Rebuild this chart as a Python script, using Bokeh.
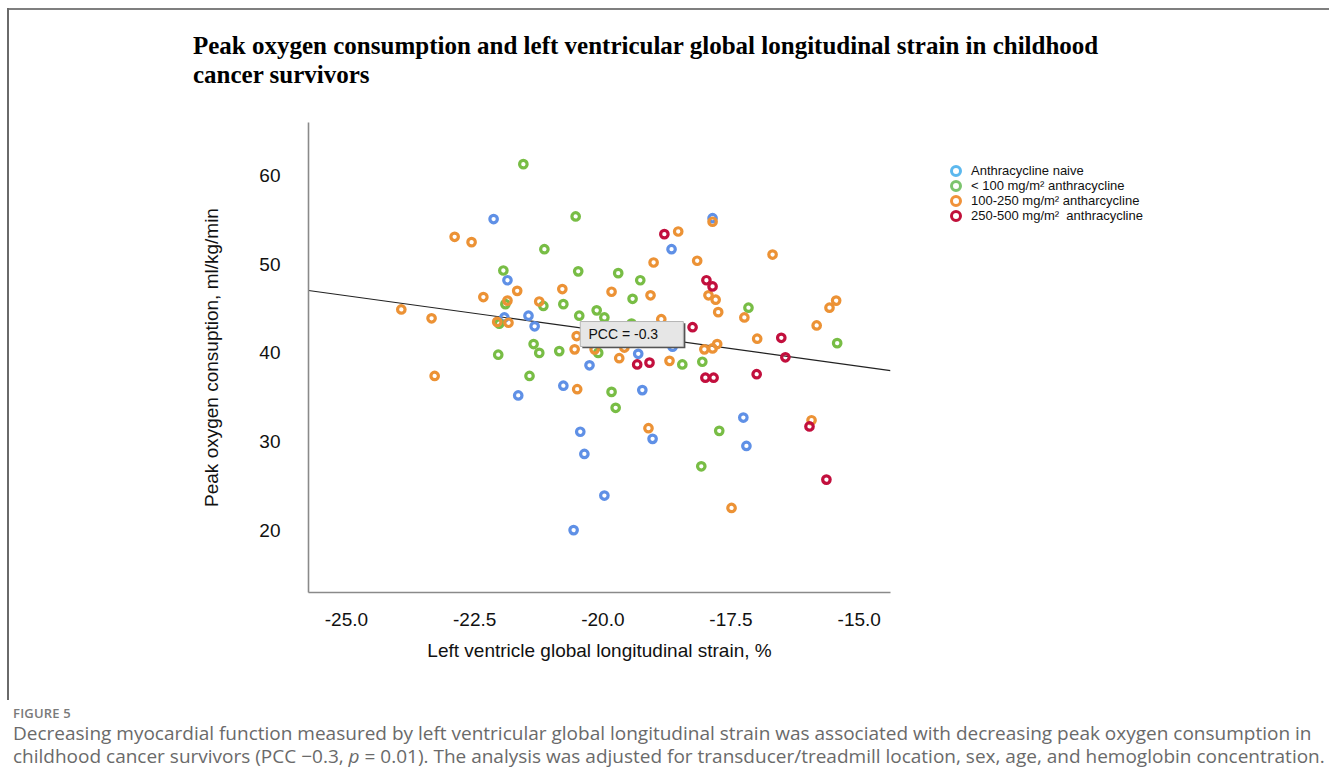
from bokeh.plotting import figure
from bokeh.models import (ColumnDataSource, Legend, LegendItem, Label, FixedTicker,
                          NumeralTickFormatter, Div, Range1d)
from bokeh.layouts import column, row
from bokeh.embed import file_html
from bokeh.resources import INLINE

# Left ventricular GLS (%) and peak VO2 (ml/kg/min) by cumulative anthracycline dose
naive_gls = [-22.13, -21.86, -21.92, -21.45, -21.33, -20.26, -20.77, -21.65, -20.44, -20.36,
             -20.57, -19.97, -17.86, -18.66, -19.31, -18.64, -19.23, -19.03, -17.26, -17.20]
naive_vo2 = [55.1, 48.2, 44.0, 44.2, 43.0, 38.6, 36.3, 35.2, 31.1, 28.6,
             20.0, 23.9, 55.2, 51.7, 39.9, 40.7, 35.8, 30.3, 32.7, 29.5]

low_gls = [-21.55, -20.53, -21.14, -21.94, -20.48, -21.90, -21.16, -20.77, -20.46, -20.12,
           -22.02, -21.35, -21.24, -20.85, -22.04, -20.09, -21.43, -19.70, -19.27, -19.42,
           -19.97, -19.44, -17.16, -15.43, -18.45, -18.06, -19.83, -19.75, -17.73, -18.08]
low_vo2 = [61.3, 55.4, 51.7, 49.3, 49.2, 45.5, 45.3, 45.5, 44.2, 44.8,
           43.3, 41.0, 40.0, 40.2, 39.8, 40.0, 37.4, 49.0, 48.2, 46.1,
           44.0, 43.3, 45.1, 41.1, 38.7, 39.0, 35.6, 33.8, 31.2, 27.2]

mid_gls = [-22.89, -22.56, -21.67, -20.79, -22.33, -21.86, -21.24, -23.93, -23.34, -22.06,
           -21.84, -20.51, -20.55, -20.16, -23.28, -20.50, -17.86, -18.53, -16.69, -19.01,
           -18.16, -19.83, -19.07, -17.94, -17.80, -17.75, -17.24, -15.45, -15.58, -15.83,
           -18.86, -16.99, -18.02, -17.86, -17.77, -19.58, -19.68, -18.70, -19.11, -15.93,
           -17.49]
mid_vo2 = [53.1, 52.5, 47.0, 47.2, 46.3, 45.9, 45.8, 44.9, 43.9, 43.5,
           43.4, 41.9, 40.4, 40.4, 37.4, 35.9, 54.8, 53.7, 51.1, 50.2,
           50.4, 46.9, 46.5, 46.5, 46.0, 44.6, 44.0, 45.9, 45.1, 43.1,
           43.8, 41.6, 40.4, 40.5, 41.0, 40.6, 39.4, 39.1, 31.5, 32.4,
           22.5]

high_gls = [-18.80, -17.98, -17.86, -18.25, -16.52, -16.44, -19.33, -19.09, -18.00, -17.84,
            -17.00, -15.97, -15.64]
high_vo2 = [53.4, 48.2, 47.5, 42.9, 41.7, 39.5, 38.7, 38.9, 37.2, 37.2,
            37.6, 31.7, 25.7]

# Fitted regression line end points
fit_gls = [-25.74, -14.39]
fit_vo2 = [47.04, 38.0]

x_ticks = [-25.0, -22.5, -20.0, -17.5, -15.0]
y_ticks = [20, 30, 40, 50, 60]

group_names = ["Anthracycline naive",
               "< 100 mg/m\u00b2 anthracycline",
               "100-250 mg/m\u00b2 antharcycline",
               "250-500 mg/m\u00b2  anthracycline"]
point_colors = ["#5f90e6", "#78bd45", "#ec9235", "#c20f3d"]
legend_colors = ["#5cb8ee", "#7cc46e", "#f0923a", "#c0103a"]

title_lines = ["Peak oxygen consumption and left ventricular global longitudinal strain in childhood",
               "cancer survivors"]

PAGE_W = 1329
TOP_H, SIDE_W, CAP_H = 112, 9, 72
W, H = PAGE_W - SIDE_W, 772 - TOP_H - CAP_H
FRAME_L, FRAME_R, FRAME_T, FRAME_B = 299, 881, 10, 480

p = figure(width=W, height=H, output_backend="svg", toolbar_location=None,
           x_range=Range1d(-25.74, -14.39), y_range=Range1d(12.96, 66.0),
           min_border_left=FRAME_L, min_border_right=W - FRAME_R,
           min_border_top=FRAME_T, min_border_bottom=H - FRAME_B,
           frame_width=FRAME_R - FRAME_L, frame_height=FRAME_B - FRAME_T)
p.grid.visible = False
p.outline_line_color = None
p.background_fill_color = "white"
p.border_fill_color = "white"

for ax in (p.xaxis[0], p.yaxis[0]):
    ax.axis_line_color = "#8a8a8a"
    ax.axis_line_width = 1.6
    ax.major_tick_line_color = None
    ax.minor_tick_line_color = None
    ax.major_label_text_font = "Liberation Sans"
    ax.major_label_text_font_size = "19px"
    ax.major_label_text_color = "#111111"
    ax.axis_label_text_font = "Liberation Sans"
    ax.axis_label_text_font_size = "19px"
    ax.axis_label_text_font_style = "normal"
    ax.axis_label_text_color = "#111111"

p.xaxis.ticker = FixedTicker(ticks=x_ticks)
p.xaxis.formatter = NumeralTickFormatter(format="0.0")
p.xaxis.major_label_standoff = 14
p.xaxis.axis_label = "Left ventricle global longitudinal strain, %"
p.xaxis.axis_label_standoff = 11

p.yaxis.ticker = FixedTicker(ticks=y_ticks)
p.yaxis.major_label_standoff = 22
p.yaxis.axis_label = "Peak oxygen consuption, ml/kg/min"
p.yaxis.axis_label_standoff = 34

# regression line
p.line(fit_gls, fit_vo2, line_color="#222222", line_width=1.2)

# data points, one ring per survivor
groups = [(naive_gls, naive_vo2), (low_gls, low_vo2), (mid_gls, mid_vo2), (high_gls, high_vo2)]
for (gx, gy), col in zip(groups, point_colors):
    src = ColumnDataSource(dict(x=gx, y=gy))
    p.scatter("x", "y", source=src, marker="circle", size=7.5, line_width=3.2,
              line_color=col, fill_color=None)

# PCC annotation box
box_l, box_r, box_t, box_b = -20.44, -18.43, 43.54, 40.72
p.quad(left=[box_l + 0.04], right=[box_r + 0.04], top=[box_t - 0.2], bottom=[box_b - 0.2],
       fill_color="#555555", line_color=None)
p.quad(left=[box_l], right=[box_r], top=[box_t], bottom=[box_b],
       fill_color="#e6e6e6", line_color="#b5b5b5", line_width=1)
p.add_layout(Label(x=box_l + 0.16, y=(box_t + box_b) / 2, text="PCC = -0.3",
                   text_font="Liberation Sans", text_font_size="14px",
                   text_color="#111111", text_baseline="middle", text_align="left"))

# legend with ring swatches drawn as annuli (renderers carry no visible points)
nan = float("nan")
legend_items = []
for name, col in zip(group_names, legend_colors):
    r = p.annulus(x=[nan], y=[nan], inner_radius=0.1, outer_radius=0.2,
                  fill_color=col, line_color=None)
    legend_items.append(LegendItem(label=name, renderers=[r]))
legend = Legend(items=legend_items, location=(58, 369), padding=0, margin=0,
                spacing=0, glyph_width=15, glyph_height=15, label_height=13,
                label_standoff=8, label_text_font="Liberation Sans",
                label_text_font_size="13px", label_text_color="#111111",
                border_line_color=None, background_fill_alpha=0)
p.add_layout(legend, "right")

# header: rules framing the panel and the two-line title
header_html = (
    f"<div style='position:relative; width:{PAGE_W}px; height:{TOP_H}px;'>"
    "<div style='position:absolute; left:7px; top:8px; width:1322px; height:2px; background:#7f7f7f;'></div>"
    f"<div style='position:absolute; left:7px; top:8px; width:2px; height:{TOP_H - 8}px; background:#6a6a6a;'></div>"
    "<div style=\"position:absolute; left:193px; top:31px; white-space:nowrap; "
    "font-family:'Liberation Serif'; font-weight:bold; font-size:25px; line-height:29px; color:#000;\">"
    f"{title_lines[0]}<br>{title_lines[1]}</div></div>"
)
header = Div(text=header_html, width=PAGE_W, height=TOP_H, margin=0)

side_rule = Div(width=SIDE_W, height=H, margin=0,
                text=f"<div style='position:relative; width:{SIDE_W}px; height:{H}px;'>"
                     f"<div style='position:absolute; left:7px; top:0; width:2px; height:{H}px; "
                     "background:#6a6a6a;'></div></div>")

caption_html = (
    "<div style=\"font-family:'Open Sans'; padding:4px 0 0 13px; white-space:nowrap;\">"
    "<div style='font-size:13px; font-weight:600; color:#7a7a7a; letter-spacing:0.2px; line-height:18px;'>FIGURE 5</div>"
    "<div style='font-size:19px; color:#6a6a6a; line-height:23px;'>"
    "Decreasing myocardial function measured by left ventricular global longitudinal strain was associated "
    "with decreasing peak oxygen consumption in<br>"
    "childhood cancer survivors (PCC \u22120.3, <i>p</i> = 0.01). The analysis was adjusted for "
    "transducer/treadmill location, sex, age, and hemoglobin concentration."
    "</div></div>"
)
caption = Div(text=caption_html, width=PAGE_W, height=CAP_H, margin=0)

page = column(header, row(side_rule, p, spacing=0), caption, spacing=0)
open("out.html", "w").write(file_html(page, INLINE))
